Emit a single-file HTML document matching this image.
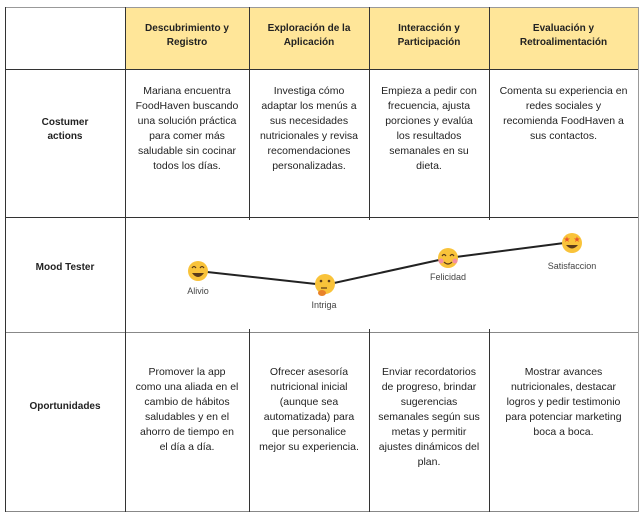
<!DOCTYPE html>
<html><head><meta charset="utf-8"><style>
body{margin:0;width:644px;height:516px;background:#fff;position:relative;overflow:hidden;font-family:"Liberation Sans",sans-serif;color:#222}
.c{position:absolute;text-align:center;font-size:10.5px;line-height:15px;white-space:nowrap}
.b{font-weight:bold;font-size:10px;line-height:14px}
.h{position:absolute;background:#333}
</style></head><body>
<div style="position:absolute;left:125px;top:7px;width:513px;height:62px;background:#FFE699"></div>
<div class="h" style="left:5px;top:7px;width:634px;height:1px;background:#999"></div>
<div class="h" style="left:5px;top:69px;width:634px;height:1px"></div>
<div class="h" style="left:5px;top:217px;width:634px;height:1px"></div>
<div class="h" style="left:5px;top:332px;width:634px;height:1px;background:#888"></div>
<div class="h" style="left:5px;top:511px;width:634px;height:1px;background:#888"></div>
<div class="h" style="left:5px;top:7px;width:1px;height:505px"></div>
<div class="h" style="left:638px;top:7px;width:1px;height:505px;background:#999"></div>
<div class="h" style="left:125px;top:7px;width:1px;height:505px"></div>
<div class="h" style="left:249px;top:7px;width:1px;height:211px"></div>
<div class="h" style="left:369px;top:7px;width:1px;height:211px"></div>
<div class="h" style="left:489px;top:7px;width:1px;height:211px"></div>
<div class="h" style="left:249px;top:332px;width:1px;height:180px"></div>
<div class="h" style="left:369px;top:332px;width:1px;height:180px"></div>
<div class="h" style="left:489px;top:332px;width:1px;height:180px"></div>
<div class="h" style="left:249px;top:217px;width:1px;height:3px"></div>
<div class="h" style="left:369px;top:217px;width:1px;height:3px"></div>
<div class="h" style="left:489px;top:217px;width:1px;height:3px"></div>
<div class="h" style="left:249px;top:329px;width:1px;height:4px"></div>
<div class="h" style="left:369px;top:329px;width:1px;height:4px"></div>
<div class="h" style="left:489px;top:329px;width:1px;height:4px"></div>

<div class="c b" style="left:125px;width:124px;top:22px">Descubrimiento y<br>Registro</div>
<div class="c b" style="left:249px;width:120px;top:22px">Exploración de la<br>Aplicación</div>
<div class="c b" style="left:369px;width:120px;top:22px">Interacción y<br>Participación</div>
<div class="c b" style="left:489px;width:149px;top:22px">Evaluación y<br>Retroalimentación</div>

<div class="c b" style="left:5px;width:120px;top:116px">Costumer<br>actions</div>
<div class="c b" style="left:5px;width:120px;top:261px">Mood Tester</div>
<div class="c b" style="left:5px;width:120px;top:400px">Oportunidades</div>

<div class="c" style="left:125px;width:124px;top:84px">Mariana encuentra<br>FoodHaven buscando<br>una solución práctica<br>para comer más<br>saludable sin cocinar<br>todos los días.</div>
<div class="c" style="left:249px;width:120px;top:84px">Investiga cómo<br>adaptar los menús a<br>sus necesidades<br>nutricionales y revisa<br>recomendaciones<br>personalizadas.</div>
<div class="c" style="left:369px;width:120px;top:84px">Empieza a pedir con<br>frecuencia, ajusta<br>porciones y evalúa<br>los resultados<br>semanales en su<br>dieta.</div>
<div class="c" style="left:489px;width:149px;top:84px">Comenta su experiencia en<br>redes sociales y<br>recomienda FoodHaven a<br>sus contactos.</div>

<div class="c" style="left:125px;width:124px;top:365px">Promover la app<br>como una aliada en el<br>cambio de hábitos<br>saludables y en el<br>ahorro de tiempo en<br>el día a día.</div>
<div class="c" style="left:249px;width:120px;top:365px">Ofrecer asesoría<br>nutricional inicial<br>(aunque sea<br>automatizada) para<br>que personalice<br>mejor su experiencia.</div>
<div class="c" style="left:369px;width:120px;top:365px">Enviar recordatorios<br>de progreso, brindar<br>sugerencias<br>semanales según sus<br>metas y permitir<br>ajustes dinámicos del<br>plan.</div>
<div class="c" style="left:489px;width:149px;top:365px">Mostrar avances<br>nutricionales, destacar<br>logros y pedir testimonio<br>para potenciar marketing<br>boca a boca.</div>

<svg style="position:absolute;left:0;top:0" width="644" height="516">
<polyline points="198,271 325,285 448,258 572,242" fill="none" stroke="#222" stroke-width="2"/>
<g>
<circle cx="198" cy="271" r="10" fill="#F9C33A"/>
<path d="M192,273 Q198,281 204,273 Z" fill="#5a3a1a"/>
<path d="M192,268 q2,-3 4,0 M200,268 q2,-3 4,0" stroke="#5a3a1a" fill="none" stroke-width="1.2"/>
</g>
<g>
<circle cx="325" cy="284" r="10" fill="#F9C33A"/>
<circle cx="321" cy="281" r="1.3" fill="#5a3a1a"/><circle cx="329" cy="281" r="1.3" fill="#5a3a1a"/>
<path d="M321,288 h6" stroke="#5a3a1a" stroke-width="1.2"/>
<ellipse cx="322" cy="293" rx="4" ry="3" fill="#E8822A"/>
</g>
<g>
<circle cx="448" cy="258" r="10" fill="#F9C33A"/>
<circle cx="441" cy="261" r="2.5" fill="#F48FA0"/><circle cx="455" cy="261" r="2.5" fill="#F48FA0"/>
<path d="M442,256 q2,-3 4,0 M450,256 q2,-3 4,0" stroke="#5a3a1a" fill="none" stroke-width="1.2"/>
<path d="M444,262 q4,4 8,0" stroke="#5a3a1a" fill="none" stroke-width="1.2"/>
</g>
<g>
<circle cx="572" cy="243" r="10" fill="#F9C33A"/>
<text x="567" y="242" font-size="8" fill="#E8542A" text-anchor="middle">★</text>
<text x="577" y="242" font-size="8" fill="#E8542A" text-anchor="middle">★</text>
<path d="M566,245 Q572,252 578,245 Z" fill="#5a3a1a"/>
</g>
<g font-family="Liberation Sans,sans-serif" font-size="9" fill="#444" text-anchor="middle">
<text x="198" y="294">Alivio</text>
<text x="324" y="308">Intriga</text>
<text x="448" y="280">Felicidad</text>
<text x="572" y="269">Satisfaccion</text>
</g>
</svg>
</body></html>
